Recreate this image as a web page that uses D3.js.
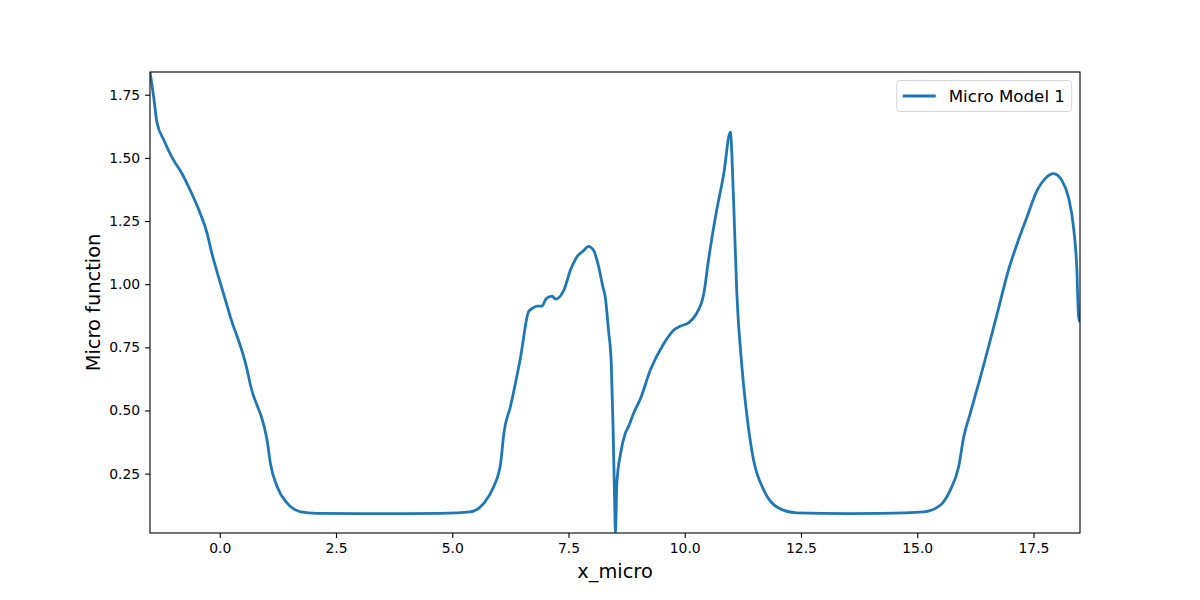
<!DOCTYPE html>
<html>
<head>
<meta charset="utf-8">
<script src="https://cdn.jsdelivr.net/npm/d3@7"></script>
<style>
  body { margin: 0; background: #fff; }
  svg text { font-family: "DejaVu Sans", sans-serif; fill: #000; }
</style>
</head>
<body>
<div id="vis"></div>
<script>
// values
const xMicro = [
  -1.5, -1.42, -1.35, -1.20, -0.99, -0.85, -0.63, -0.42, -0.27, -0.18,
  0.02, 0.23, 0.59, 0.66, 0.95, 1.02, 1.09, 1.23, 1.45, 1.74,
  2.09, 3.0, 4.0, 4.75, 5.39, 5.68, 5.89, 6.04, 6.11, 6.25,
  6.47, 6.64, 6.72, 6.82, 6.93, 7.02, 7.15, 7.22, 7.40, 7.54,
  7.68, 7.83, 7.93, 8.04, 8.15, 8.24, 8.29, 8.36, 8.42, 8.46,
  8.49, 8.51, 8.54, 8.62, 8.72, 8.79, 8.90, 9.05, 9.26, 9.55,
  9.62, 9.76, 9.91, 10.08, 10.23, 10.41, 10.51, 10.66, 10.84, 10.98,
  11.05, 11.12, 11.23, 11.34, 11.48, 11.70, 11.99, 12.4, 13.5, 14.2,
  15.14, 15.50, 15.71, 15.89, 16.00, 16.14, 16.36, 16.57, 16.72, 16.96,
  17.15, 17.36, 17.58, 17.75, 17.93, 18.11, 18.25, 18.36, 18.43, 18.47,
  18.5
]
const microModel1 = [
  1.84, 1.74, 1.64, 1.57, 1.49, 1.45, 1.37, 1.28, 1.20, 1.13,
  1.00, 0.87, 0.66, 0.60, 0.44, 0.38, 0.29, 0.20, 0.133, 0.099,
  0.093, 0.092, 0.092, 0.093, 0.099, 0.133, 0.198, 0.29, 0.41, 0.515,
  0.712, 0.89, 0.904, 0.913, 0.913, 0.943, 0.953, 0.941, 0.976, 1.055,
  1.108, 1.134, 1.150, 1.134, 1.068, 0.989, 0.95, 0.818, 0.686, 0.422,
  0.159, 0.015, 0.212, 0.330, 0.409, 0.436, 0.489, 0.548, 0.660, 0.765,
  0.785, 0.818, 0.834, 0.847, 0.877, 0.963, 1.095, 1.266, 1.438, 1.602,
  1.332, 0.963, 0.673, 0.475, 0.304, 0.185, 0.117, 0.095, 0.092, 0.093,
  0.099, 0.126, 0.185, 0.277, 0.396, 0.489, 0.633, 0.778, 0.884, 1.055,
  1.161, 1.266, 1.372, 1.418, 1.438, 1.411, 1.345, 1.227, 1.068, 0.871,
  0.85
]
const xTicks = [0, 2.5, 5, 7.5, 10, 12.5, 15, 17.5]
const yTicks = [0.25, 0.5, 0.75, 1.0, 1.25, 1.5, 1.75]
const seriesName = 'Micro Model 1'

const margin = { left: 150, top: 72, right: 120, bottom: 67 }
const width = 1200 - margin.left - margin.right
const height = 600 - margin.top - margin.bottom

const dataset = xMicro.map((x, i) => ({ x: x, y: microModel1[i] }))

let svg = d3.select('#vis')
  .append('svg')
  .attr('width', 1200)
  .attr('height', 600)

let g = svg.append('g')
  .attr('transform', `translate(${margin.left},${margin.top})`)

// x limits follow the data, y limits are the data min / max
let xScale = d3.scaleLinear()
  .domain(d3.extent(xMicro))
  .range([0, width])

let yScale = d3.scaleLinear()
  .domain(d3.extent(microModel1))
  .range([height, 0])

// axes
let xAxis = g.append('g')
  .attr('transform', `translate(0,${height})`)
  .call(d3.axisBottom(xScale).tickValues(xTicks).tickFormat(d3.format('.1f')).tickSizeOuter(0).tickSize(4.9).tickPadding(4.9))

let yAxis = g.append('g')
  .call(d3.axisLeft(yScale).tickValues(yTicks).tickFormat(d3.format('.2f')).tickSizeOuter(0).tickSize(4.9).tickPadding(4.9))

g.selectAll('.domain').remove()
g.selectAll('.tick line').attr('stroke', '#000').attr('stroke-width', 1.1)
g.selectAll('.tick text').style('font-size', '13.9px').style('font-family', '"DejaVu Sans", sans-serif')

// clip the line to the axes box
svg.append('clipPath').attr('id', 'clip')
  .append('rect').attr('width', width).attr('height', height)

let line = d3.line()
  .x(d => xScale(d.x))
  .y(d => yScale(d.y))
  .curve(d3.curveMonotoneX)

g.append('path')
  .datum(dataset)
  .attr('clip-path', 'url(#clip)')
  .attr('fill', 'none')
  .attr('stroke', '#1f77b4')
  .attr('stroke-width', 2.8)
  .attr('stroke-linejoin', 'round')
  .attr('stroke-linecap', 'butt')
  .attr('d', line)

// frame
g.append('rect')
  .attr('width', width)
  .attr('height', height)
  .attr('fill', 'none')
  .attr('stroke', '#000')
  .attr('stroke-width', 1.1)

// axis labels
g.append('text')
  .attr('x', width / 2)
  .attr('y', height + 45)
  .attr('text-anchor', 'middle')
  .style('font-size', '19.4px')
  .text('x_micro')

g.append('text')
  .attr('transform', `translate(-50,${height / 2}) rotate(-90)`)
  .attr('text-anchor', 'middle')
  .style('font-size', '19.4px')
  .text('Micro function')

// legend, upper right
let legend = g.append('g')
  .attr('transform', `translate(${width - 8.3 - 175},8.5)`)

legend.append('rect')
  .attr('width', 175)
  .attr('height', 31)
  .attr('rx', 3)
  .attr('fill', '#fff')
  .attr('fill-opacity', 0.8)
  .attr('stroke', '#d6d6d6')
  .attr('stroke-width', 1)

legend.append('line')
  .attr('x1', 6).attr('x2', 39)
  .attr('y1', 15.5).attr('y2', 15.5)
  .attr('stroke', '#1f77b4')
  .attr('stroke-width', 2.8)

legend.append('text')
  .attr('x', 52)
  .attr('y', 21.5)
  .style('font-size', '16.7px')
  .text(seriesName)
</script>
</body>
</html>
